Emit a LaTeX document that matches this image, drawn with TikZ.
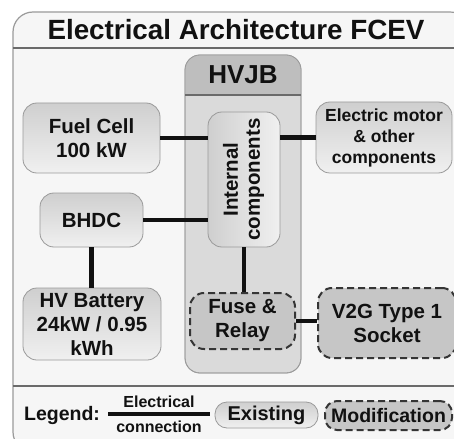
\documentclass[tikz,border=0pt]{standalone}
\usepackage{fontspec}
\setmainfont{Liberation Sans}
\usetikzlibrary{calc,positioning}
\definecolor{archink}{HTML}{111111}
\definecolor{archframe}{HTML}{9A9A9A}
\definecolor{archrule}{HTML}{6A6A6A}
\definecolor{archback}{HTML}{F6F6F6}
\definecolor{boxdark}{HTML}{CFCFCF}
\definecolor{boxlight}{HTML}{F0F0F0}
\definecolor{modfill}{HTML}{C6C6C6}
\definecolor{hvjbhead}{HTML}{BEBEBE}
\definecolor{hvjbbody}{HTML}{DADADA}
\tikzset{
  existbox/.style={draw=archframe, top color=boxdark, bottom color=boxlight,
    rounded corners=14pt, line width=.8pt, text=archink, align=center,
    inner sep=2pt, font=\fontsize{20.5}{24}\selectfont\bfseries},
  modbox/.style={draw=archink!85, fill=modfill, dash pattern=on 7pt off 4pt,
    rounded corners=14pt, line width=2pt, text=archink, align=center,
    inner sep=2pt, font=\fontsize{20.5}{24}\selectfont\bfseries},
  elink/.style={draw=archink, line width=4.5pt},
  legendtext/.style={text=archink, font=\fontsize{19.5}{22}\selectfont\bfseries},
  smalltext/.style={text=archink, font=\fontsize{16}{18}\selectfont\bfseries}
}

\begin{document}
\begin{tikzpicture}[x=1pt,y=-1pt]
  \useasboundingbox (0,0) rectangle (454,438);
  \clip (0,0) rectangle (454,438);

  % outer frame
  \draw[archframe, fill=archback, line width=1.2pt, rounded corners=20pt]
    (13,12) rectangle (470,452);
  \node[text=archink, font=\fontsize{27.8}{32}\selectfont\bfseries]
    (title) at (236,30) {Electrical Architecture FCEV};
  \draw[archrule, line width=2pt] (13,48) -- (454,48);
  \draw[archrule, line width=2pt] (13,386) -- (454,386);

  % junction box
  \draw[archframe, fill=hvjbbody, line width=.8pt, rounded corners=15pt]
    (185,55) rectangle (301,373);
  \begin{scope}
    \clip[rounded corners=15pt] (185,55) rectangle (301,373);
    \fill[hvjbhead] (185,55) rectangle (301,95);
  \end{scope}
  \draw[archframe, line width=.8pt, rounded corners=15pt]
    (185,55) rectangle (301,373);
  \draw[archrule, line width=1.6pt] (185,95) -- (301,95);
  \node[text=archink, font=\fontsize{26}{30}\selectfont\bfseries]
    (hvjb) at (243,75) {HVJB};

  % components
  \node[existbox, minimum width=137pt, minimum height=70pt]
    (fuelcell) at (91.5,138) {Fuel Cell\\100 kW};
  \node[existbox, minimum width=136pt, minimum height=71pt,
    font=\fontsize{17.5}{21}\selectfont\bfseries]
    (motor) at (384,137.5) {Electric motor\\\& other\\components};
  \node[existbox, minimum width=103pt, minimum height=54pt]
    (bhdc) at (91.5,220) {BHDC};
  \node[existbox, minimum width=138pt, minimum height=72pt]
    (battery) at (92,324) {HV Battery\\24kW / 0.95\\kWh};
  \node[existbox, left color=boxdark, right color=boxlight,
    minimum width=72pt, minimum height=135pt]
    (internal) at (244,179.5)
    {\rotatebox{90}{\begin{tabular}{@{}c@{}}Internal\\[-2pt]components\end{tabular}}};
  \node[modbox, minimum width=105pt, minimum height=56pt]
    (fuse) at (242.5,321) {Fuse \&\\Relay};
  \node[modbox, minimum width=138pt, minimum height=70pt]
    (vtwog) at (387,323) {V2G Type 1\\Socket};

  % connections
  \draw[elink] (fuelcell.east) -- (fuelcell.east -| internal.west);
  \draw[elink] (motor.west) -- (motor.west -| internal.east);
  \draw[elink] (bhdc.east) -- (bhdc.east -| internal.west);
  \draw[elink] (bhdc.south) -- (bhdc.south |- battery.north);
  \draw[elink] (internal.south) -- (internal.south |- fuse.north);
  \draw[elink] (fuse.east) -- (fuse.east -| vtwog.west);

  % legend
  \node[legendtext] (legend) at (62,415) {Legend:};
  \coordinate (lgstart) at (108,414);
  \coordinate (lgend) at (210,414);
  \draw[elink] (lgstart) -- (lgend);
  \node[smalltext, anchor=south] (lgtop) at ($(lgstart)!.5!(lgend)+(0,-3)$)
    {Electrical};
  \node[smalltext, anchor=north] (lgbottom) at ($(lgstart)!.5!(lgend)+(0,3)$)
    {connection};
  \node[existbox, minimum width=103pt, minimum height=26pt, rounded corners=12pt,
    font=\fontsize{20}{22}\selectfont\bfseries]
    (existing) at (266.5,415) {Existing};
  \node[modbox, minimum width=127pt, minimum height=29pt, rounded corners=12pt,
    font=\fontsize{19.5}{22}\selectfont\bfseries]
    (modification) at (388.5,415.5) {Modification};
\end{tikzpicture}
\end{document}
